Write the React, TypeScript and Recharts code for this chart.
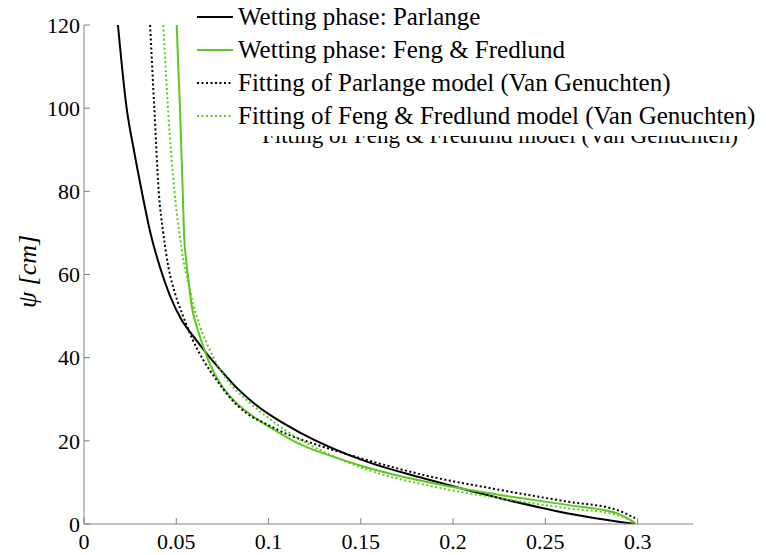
import React from 'react';
import { LineChart, Line, XAxis, YAxis } from 'recharts';

// water content (theta) and suction head (psi, cm)
const parlangeTheta = [0.0184, 0.0231, 0.027, 0.0313, 0.036, 0.041, 0.0465, 0.053, 0.0595, 0.0665, 0.0737, 0.0827, 0.0936, 0.1044, 0.117, 0.1532, 0.1839, 0.2254, 0.2616, 0.2986];
const parlangePsi = [120, 100, 90, 80, 70, 62, 55, 49, 45, 41.0, 37.2, 32.8, 28.5, 25.2, 22.0, 15.0, 11.0, 6.2, 2.6, 0];

const fengTheta = [0.0502, 0.052, 0.0535, 0.0542, 0.0553, 0.0566, 0.0584, 0.0611, 0.0647, 0.0684, 0.0738, 0.081, 0.0919, 0.1044, 0.117, 0.135, 0.1532, 0.1893, 0.2254, 0.2616, 0.2887, 0.2986];
const fengPsi = [120, 100, 80, 69.9, 63.5, 58.7, 52.3, 47.5, 42.6, 38.3, 33.8, 29.8, 25.8, 22.3, 19.2, 16.2, 13.6, 9.8, 7.0, 4.6, 2.6, 0.3];

const parlangeFitTheta = [0.0358, 0.0381, 0.0405, 0.043, 0.0457, 0.0493, 0.0538, 0.0584, 0.0647, 0.0719, 0.0791, 0.0882, 0.099, 0.1116, 0.1225, 0.1532, 0.1839, 0.2254, 0.2616, 0.2887, 0.2986];
const parlangeFitPsi = [120, 100, 80, 69.9, 61.9, 55.5, 49.9, 44.8, 39.4, 34.6, 30.4, 26.6, 24.0, 21.3, 19.6, 15.4, 11.8, 8.2, 5.4, 3.4, 1.4];

const fengFitTheta = [0.043, 0.0455, 0.049, 0.0517, 0.0538, 0.0566, 0.0593, 0.0629, 0.0674, 0.0728, 0.0791, 0.0882, 0.099, 0.1116, 0.1225, 0.1532, 0.1893, 0.2254, 0.2616, 0.2887, 0.2986];
const fengFitPsi = [120, 100, 80, 69.9, 63.5, 57.9, 52.6, 47.5, 42.6, 37.8, 33.8, 29.8, 25.8, 21.8, 19.0, 13.1, 9.0, 6.2, 3.8, 2.2, 0.3];

const xTicks = [0, 0.05, 0.1, 0.15, 0.2, 0.25, 0.3];
const yTicks = [0, 20, 40, 60, 80, 100, 120];

const legendLabels = [
  'Wetting phase: Parlange',
  'Wetting phase: Feng & Fredlund',
  'Fitting of Parlange model (Van Genuchten)',
  'Fitting of Feng & Fredlund model (Van Genuchten)',
];

const GREEN = '#5bc820';
const FONT = 'Liberation Serif';

const toRows = (theta: number[], psi: number[]) => theta.map((t, i) => ({ theta: t, psi: psi[i] }));

const series = [
  { name: legendLabels[0], data: toRows(parlangeTheta, parlangePsi), color: '#000', dash: undefined },
  { name: legendLabels[1], data: toRows(fengTheta, fengPsi), color: GREEN, dash: undefined },
  { name: legendLabels[2], data: toRows(parlangeFitTheta, parlangeFitPsi), color: '#000', dash: '2 2.5' },
  { name: legendLabels[3], data: toRows(fengFitTheta, fengFitPsi), color: GREEN, dash: '2 2.5' },
];

const YLabel = (props: any) => {
  const vb = props.viewBox || { y: 25, height: 499 };
  const cy = vb.y + vb.height / 2 - 3;
  return (
    <text
      x={27}
      y={cy}
      transform={`rotate(-90, 27, ${cy})`}
      textAnchor="middle"
      dominantBaseline="central"
      fontFamily={FONT}
      fontStyle="italic"
      fontSize={26}
      fill="#000"
    >
      ψ [cm]
    </text>
  );
};

const App: React.FC = () => {
  return (
    <div style={{ position: 'absolute', left: 0, top: 0, width: 766, height: 555, background: '#fff' }}>
      <LineChart width={766} height={555} margin={{ top: 25, right: 73, bottom: 0, left: 0 }}>
        <XAxis
          dataKey="theta"
          type="number"
          domain={[0, 0.33]}
          ticks={xTicks}
          allowDataOverflow
          height={31}
          stroke="#808080"
          tickSize={-6}
          tickMargin={15}
          tick={{ fontFamily: FONT, fontSize: 22, fill: '#000' }}
          tickFormatter={(v: number) => String(v)}
        />
        <YAxis
          type="number"
          domain={[0, 120]}
          ticks={yTicks}
          allowDataOverflow
          width={84}
          stroke="#808080"
          tickSize={-6}
          tickMargin={10}
          tick={{ fontFamily: FONT, fontSize: 22, fill: '#000' }}
          label={<YLabel />}
        />
        {series.map((s) => (
          <Line
            key={s.name}
            data={s.data}
            dataKey="psi"
            name={s.name}
            type="monotone"
            stroke={s.color}
            strokeWidth={2}
            strokeDasharray={s.dash}
            dot={false}
            activeDot={false}
            isAnimationActive={false}
          />
        ))}
      </LineChart>

      {/* stray copy of the last legend entry, half hidden under the legend box */}
      <div
        style={{
          position: 'absolute', left: 262, top: 122, fontFamily: FONT, fontSize: 23,
          lineHeight: '28px', whiteSpace: 'nowrap', color: '#000',
        }}
      >
        {legendLabels[3]}
      </div>

      <div
        style={{
          position: 'absolute', left: 192, top: 0, width: 574, height: 136,
          background: '#fff', fontFamily: FONT, fontSize: 25, color: '#000',
        }}
      >
        {series.map((s) => (
          <div key={s.name} style={{ display: 'flex', alignItems: 'center', height: 33, whiteSpace: 'nowrap' }}>
            <svg width={36} height={6} style={{ marginLeft: 5, marginRight: 5 }}>
              <line x1={0} y1={3} x2={36} y2={3} stroke={s.color} strokeWidth={2} strokeDasharray={s.dash} />
            </svg>
            <span>{s.name}</span>
          </div>
        ))}
      </div>
    </div>
  );
};

export default App;
